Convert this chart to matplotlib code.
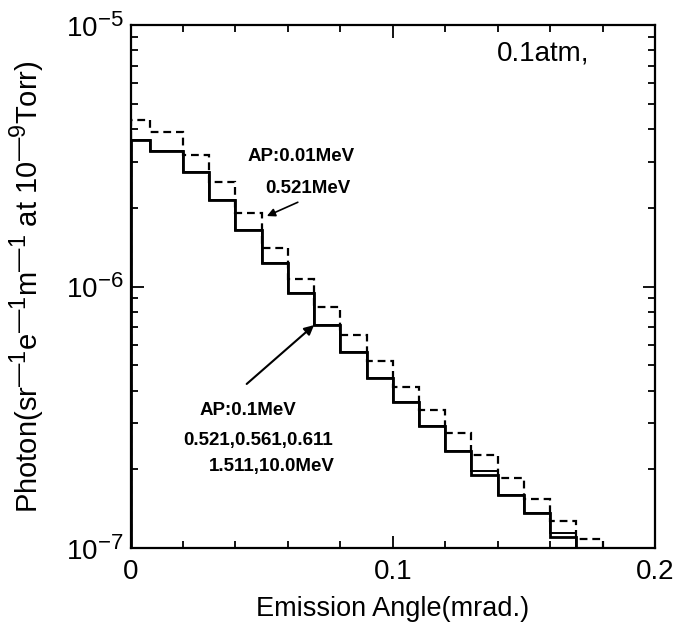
import numpy as np
import matplotlib
matplotlib.use("Agg")
import matplotlib.pyplot as plt
import matplotlib._mathtext as mathtext_internal
from matplotlib.ticker import MultipleLocator, LogLocator, FuncFormatter, NullFormatter

plt.rcParams['font.family'] = ['Liberation Sans', 'DejaVu Sans']
plt.rcParams['mathtext.fontset'] = 'custom'
plt.rcParams['mathtext.rm'] = 'Liberation Sans'
plt.rcParams['mathtext.it'] = 'Liberation Sans'
plt.rcParams['mathtext.bf'] = 'Liberation Sans:bold'
# larger exponents than the default 0.7
mathtext_internal.SHRINK_FACTOR = 0.8

## Angular bins (mrad.)
edges_ap01 = [0.0, 0.0075, 0.02, 0.03, 0.04, 0.05, 0.06, 0.07, 0.08, 0.09,
              0.10, 0.11, 0.12, 0.13, 0.14, 0.15, 0.16, 0.17]
edges_ap001 = edges_ap01 + [0.18]

## AP:0.1MeV, several laser energies (almost on top of each other)
photon_ap01_a = [3.63e-6, 3.30e-6, 2.74e-6, 2.14e-6, 1.645e-6, 1.23e-6, 9.44e-7,
                 7.12e-7, 5.62e-7, 4.47e-7, 3.62e-7, 2.93e-7, 2.35e-7, 1.90e-7,
                 1.59e-7, 1.36e-7, 1.10e-7]
photon_ap01_b = [3.63e-6, 3.30e-6, 2.74e-6, 2.14e-6, 1.645e-6, 1.23e-6, 9.44e-7,
                 7.12e-7, 5.62e-7, 4.47e-7, 3.62e-7, 2.93e-7, 2.35e-7, 1.97e-7,
                 1.59e-7, 1.36e-7, 1.14e-7]
## AP:0.01MeV, 0.521MeV
photon_ap001 = [4.33e-6, 3.91e-6, 3.18e-6, 2.51e-6, 1.91e-6, 1.40e-6, 1.07e-6,
                8.35e-7, 6.52e-7, 5.19e-7, 4.13e-7, 3.37e-7, 2.75e-7, 2.27e-7,
                1.85e-7, 1.54e-7, 1.27e-7, 1.08e-7]

fig = plt.figure(figsize=(6.78, 6.32), dpi=100)
ax = fig.add_axes([0.1925, 0.1329, 0.7735, 0.8275])

ax.stairs(photon_ap001, edges_ap001, baseline=1e-8, color='k', lw=1.6,
          linestyle=(0, (3.5, 2.2)))
ax.stairs(photon_ap01_b, edges_ap01, baseline=1e-8, color='k', lw=1.4)
ax.stairs(photon_ap01_a, edges_ap01, baseline=1e-8, color='k', lw=2.0)

ax.set_yscale('log')
ax.set_xlim(0, 0.2)
ax.set_ylim(1e-7, 1e-5)
ax.xaxis.set_major_locator(MultipleLocator(0.1))
ax.xaxis.set_minor_locator(MultipleLocator(0.02))
ax.xaxis.set_major_formatter(FuncFormatter(
    lambda v, p: '0' if abs(v) < 1e-9 else f'{v:g}'))
ax.yaxis.set_minor_locator(LogLocator(base=10, subs=np.arange(2, 10)))
ax.yaxis.set_minor_formatter(NullFormatter())

ax.tick_params(which='both', direction='in', top=True, right=True,
               width=1.3, labelsize=20, colors='k')
ax.tick_params(which='major', length=9, pad=5)
ax.tick_params(axis='x', which='major', pad=8)
ax.tick_params(which='minor', length=5)
for sp in ax.spines.values():
    sp.set_linewidth(1.6)

ax.set_xlabel('Emission Angle(mrad.)', fontsize=19.5, labelpad=8)
ax.set_ylabel('Photon(sr$^{\u20141}$e$^{\u20141}$m$^{\u20141}$ at 10$^{\u20149}$Torr)',
              fontsize=21)
ax.yaxis.set_label_coords(-0.16, 0.5)

ax.text(0.699, 0.945, '0.1atm,', transform=ax.transAxes, fontsize=20,
        va='center', ha='left')

note_kw = dict(transform=ax.transAxes, fontsize=13.5, va='center', ha='left',
               fontweight='bold')
ax.text(0.224, 0.748, 'AP:0.01MeV', **note_kw)
ax.text(0.256, 0.688, '0.521MeV', **note_kw)
ax.annotate('', xy=(0.052, 1.86e-6), xytext=(0.0638, 2.10e-6),
            arrowprops=dict(arrowstyle='-|>', color='k', lw=1.2,
                            mutation_scale=12, shrinkA=0, shrinkB=0))

ax.text(0.132, 0.262, 'AP:0.1MeV', **note_kw)
ax.text(0.100, 0.206, '0.521,0.561,0.611', **note_kw)
ax.text(0.150, 0.155, '1.511,10.0MeV', **note_kw)
ax.annotate('', xy=(0.07, 7.12e-7), xytext=(0.0443, 4.24e-7),
            arrowprops=dict(arrowstyle='-|>', color='k', lw=1.5,
                            mutation_scale=14, shrinkA=0, shrinkB=0))

fig.savefig('out.png', dpi=100)
